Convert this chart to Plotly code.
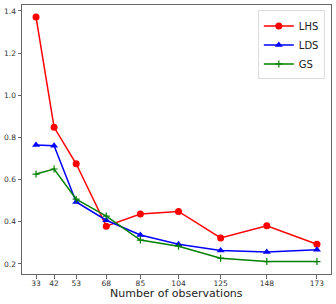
import plotly.graph_objects as go

observations = [33, 42, 53, 68, 85, 104, 125, 148, 173]
lhs = [1.371, 0.848, 0.675, 0.379, 0.437, 0.449, 0.323, 0.381, 0.293]
lds = [0.764, 0.760, 0.494, 0.407, 0.337, 0.293, 0.264, 0.256, 0.267]
gs = [0.626, 0.650, 0.507, 0.427, 0.313, 0.284, 0.227, 0.211, 0.211]
y_ticks = [0.2, 0.4, 0.6, 0.8, 1.0, 1.2, 1.4]

fig = go.Figure()
fig.add_trace(go.Scatter(x=observations, y=lhs, name="LHS", mode="lines+markers",
                         line=dict(color="#ff0000", width=1.5),
                         marker=dict(symbol="circle", size=7, color="#ff0000")))
fig.add_trace(go.Scatter(x=observations, y=lds, name="LDS", mode="lines+markers",
                         line=dict(color="#0000ff", width=1.5),
                         marker=dict(symbol="triangle-up", size=7, color="#0000ff")))
fig.add_trace(go.Scatter(x=observations, y=gs, name="GS", mode="lines+markers",
                         line=dict(color="#008000", width=1.5),
                         marker=dict(symbol="cross-thin", size=5,
                                     line=dict(color="#008000", width=1.2))))

fig.update_layout(
    width=336, height=304,
    margin=dict(l=22, r=5, t=5, b=30),
    plot_bgcolor="white", paper_bgcolor="white",
    font=dict(family="DejaVu Sans", color="#333333", size=7.5),
    showlegend=True,
    legend=dict(x=0.98, y=0.98, xanchor="right", yanchor="top",
                bgcolor="white", bordercolor="#dddddd", borderwidth=1,
                font=dict(size=10, color="#222222"), itemwidth=30,
                tracegroupgap=0),
    xaxis=dict(range=[26, 180], tickmode="array", tickvals=observations,
               ticktext=[str(v) for v in observations], automargin=False,
               showgrid=False, zeroline=False, showline=True, mirror=True,
               linecolor="#666666", linewidth=1, ticks="outside", ticklen=3.5,
               tickcolor="#666666", ticklabelstandoff=-2),
    yaxis=dict(range=[0.152, 1.428], tickmode="array", tickvals=y_ticks,
               ticktext=[f"{v:.1f}" for v in y_ticks], automargin=False,
               showgrid=False, zeroline=False, showline=True, mirror=True,
               linecolor="#666666", linewidth=1, ticks="outside", ticklen=3.5,
               tickcolor="#666666"),
    annotations=[dict(text="Number of observations", xref="paper", yref="paper",
                      x=0.5, y=0, yshift=-19, xanchor="center", yanchor="middle",
                      showarrow=False, font=dict(size=11, color="#222222"))],
)

fig.write_html("out.html", config={"displayModeBar": False},
               post_script="document.body.style.margin='0';document.body.style.padding='0';")
